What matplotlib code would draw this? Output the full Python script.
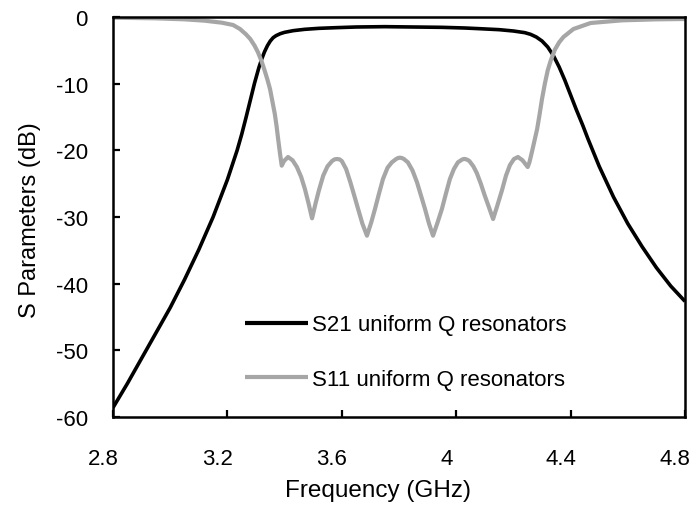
import matplotlib
matplotlib.use("Agg")
import matplotlib.pyplot as plt
from matplotlib.transforms import ScaledTranslation

FONT = "Liberation Sans"
S21_COLOR = "#000000"
S11_COLOR = "#A6A6A6"

# S21 (dB)
s21_freq = [2.80, 2.85, 2.90, 2.95, 3.00, 3.05, 3.10, 3.15, 3.20, 3.234, 3.25,
            3.265, 3.28, 3.295, 3.31, 3.32, 3.33, 3.34, 3.35, 3.36, 3.37, 3.385,
            3.40, 3.43, 3.47, 3.52, 3.58, 3.65, 3.75, 3.85, 3.95, 4.03, 4.08,
            4.15, 4.20, 4.24, 4.26, 4.28, 4.30, 4.32, 4.34, 4.36, 4.38, 4.40,
            4.42, 4.443, 4.46, 4.50, 4.55, 4.60, 4.65, 4.70, 4.75, 4.80]
s21_db = [-58.6, -55.0, -51.2, -47.4, -43.6, -39.4, -34.9, -30.0, -24.4, -20.0, -17.6,
          -15.1, -12.5, -9.9, -7.6, -6.3, -5.2, -4.3, -3.6, -3.1, -2.8, -2.5,
          -2.3, -2.05, -1.85, -1.7, -1.6, -1.5, -1.45, -1.5, -1.55, -1.65, -1.75,
          -1.9, -2.1, -2.35, -2.6, -3.0, -3.6, -4.5, -5.8, -7.5, -9.5, -11.7,
          -13.9, -16.3, -18.2, -22.4, -27.0, -31.0, -34.45, -37.6, -40.35, -42.65]

# S11 (dB)
s11_freq = [2.80, 2.95, 3.05, 3.12, 3.18, 3.22, 3.244, 3.265, 3.28, 3.295, 3.307,
            3.32, 3.33, 3.34, 3.349, 3.358, 3.366, 3.372, 3.378, 3.384, 3.39,
            3.398, 3.412, 3.428, 3.443, 3.458, 3.471, 3.484, 3.496, 3.508, 3.52,
            3.535, 3.55, 3.566, 3.575, 3.583, 3.592, 3.60, 3.615, 3.63, 3.645,
            3.657, 3.672, 3.688, 3.703, 3.716, 3.73, 3.744, 3.76, 3.775, 3.79,
            3.797, 3.803, 3.81, 3.817, 3.831, 3.847, 3.863, 3.877, 3.891, 3.905,
            3.919, 3.935, 3.95, 3.964, 3.978, 3.992, 4.006, 4.02, 4.026, 4.031,
            4.038, 4.046, 4.06, 4.072, 4.086, 4.10, 4.115, 4.129, 4.143, 4.16,
            4.174, 4.188, 4.202, 4.216, 4.232, 4.25, 4.256, 4.265, 4.274, 4.283,
            4.292, 4.30, 4.31, 4.32, 4.33, 4.345, 4.36, 4.375, 4.41, 4.47, 4.58,
            4.70, 4.80]
s11_db = [-0.1, -0.2, -0.35, -0.55, -0.85, -1.2, -1.8, -2.6, -3.3, -4.3, -5.3,
          -6.7, -8.0, -9.4, -10.8, -12.8, -14.6, -16.4, -18.5, -20.5, -22.3,
          -21.6, -21.0, -21.5, -22.5, -24.0, -25.8, -28.0, -30.2, -28.0, -26.0,
          -23.8, -22.4, -21.6, -21.35, -21.3, -21.35, -21.6, -22.8, -24.8, -27.0,
          -28.8, -31.0, -32.8, -30.8, -28.8, -26.5, -24.3, -22.6, -21.8, -21.3,
          -21.15, -21.1, -21.15, -21.3, -21.8, -23.0, -24.8, -26.8, -28.8, -31.0,
          -32.8, -30.8, -28.8, -26.5, -24.3, -22.8, -21.8, -21.4, -21.3, -21.3,
          -21.4, -21.6, -22.4, -23.4, -25.0, -26.8, -28.6, -30.3, -28.4, -26.0,
          -23.8, -22.2, -21.3, -21.0, -21.5, -22.5, -21.8, -20.2, -18.5, -16.8,
          -14.5, -12.3, -10.0, -8.0, -6.6, -4.9, -3.8, -3.0, -1.8, -0.9, -0.5,
          -0.35, -0.3]

x_ticks = [2.8, 3.2, 3.6, 4.0, 4.4, 4.8]
x_labels = ["2.8", "3.2", "3.6", "4", "4.4", "4.8"]
y_ticks = [0, -10, -20, -30, -40, -50, -60]

fig = plt.figure(figsize=(6.96, 5.10), dpi=100)
ax = fig.add_axes([113 / 696, 92 / 510, 572 / 696, 400 / 510])

ax.plot(s21_freq, s21_db, color=S21_COLOR, lw=2.6, label="S21 uniform Q resonators",
        solid_capstyle="butt", solid_joinstyle="round", zorder=3)
ax.plot(s11_freq, s11_db, color=S11_COLOR, lw=3.0, label="S11 uniform Q resonators",
        solid_capstyle="butt", solid_joinstyle="round", zorder=3)

ax.set_xlim(2.8, 4.8)
ax.set_ylim(-60, 0)
ax.set_xticks(x_ticks)
ax.set_xticklabels(x_labels, fontfamily=FONT, fontsize=16)
ax.set_yticks(y_ticks)
ax.set_yticklabels([str(v) for v in y_ticks], fontfamily=FONT, fontsize=16)
ax.tick_params(axis="x", direction="in", length=5, width=1.6, pad=22, top=False)
ax.tick_params(axis="y", direction="in", length=5, width=1.6, pad=18, right=False)
for sp in ax.spines.values():
    sp.set_linewidth(1.8)
    sp.set_zorder(4)

# Excel puts the category labels a bit left of the tick marks
shift = ScaledTranslation(-10 / 100, 0, fig.dpi_scale_trans)
for lab in ax.get_xticklabels():
    lab.set_transform(lab.get_transform() + shift)

ax.set_xlabel("Frequency (GHz)", fontfamily=FONT, fontsize=17.5)
ax.xaxis.set_label_coords(0.463, -0.155)
ax.set_ylabel("S Parameters (dB)", fontfamily=FONT, fontsize=17)
ax.yaxis.set_label_coords(-0.126, 0.495)

leg = ax.legend(loc="center left", bbox_to_anchor=((245 - 113) / 572, 0.1625),
                frameon=False, prop={"family": FONT, "size": 16},
                handlelength=2.84, handletextpad=0.18, borderpad=0,
                borderaxespad=0, labelspacing=1.5)
for line in leg.get_lines():
    line.set_linewidth(3.0)

fig.savefig("out.png", dpi=100)
